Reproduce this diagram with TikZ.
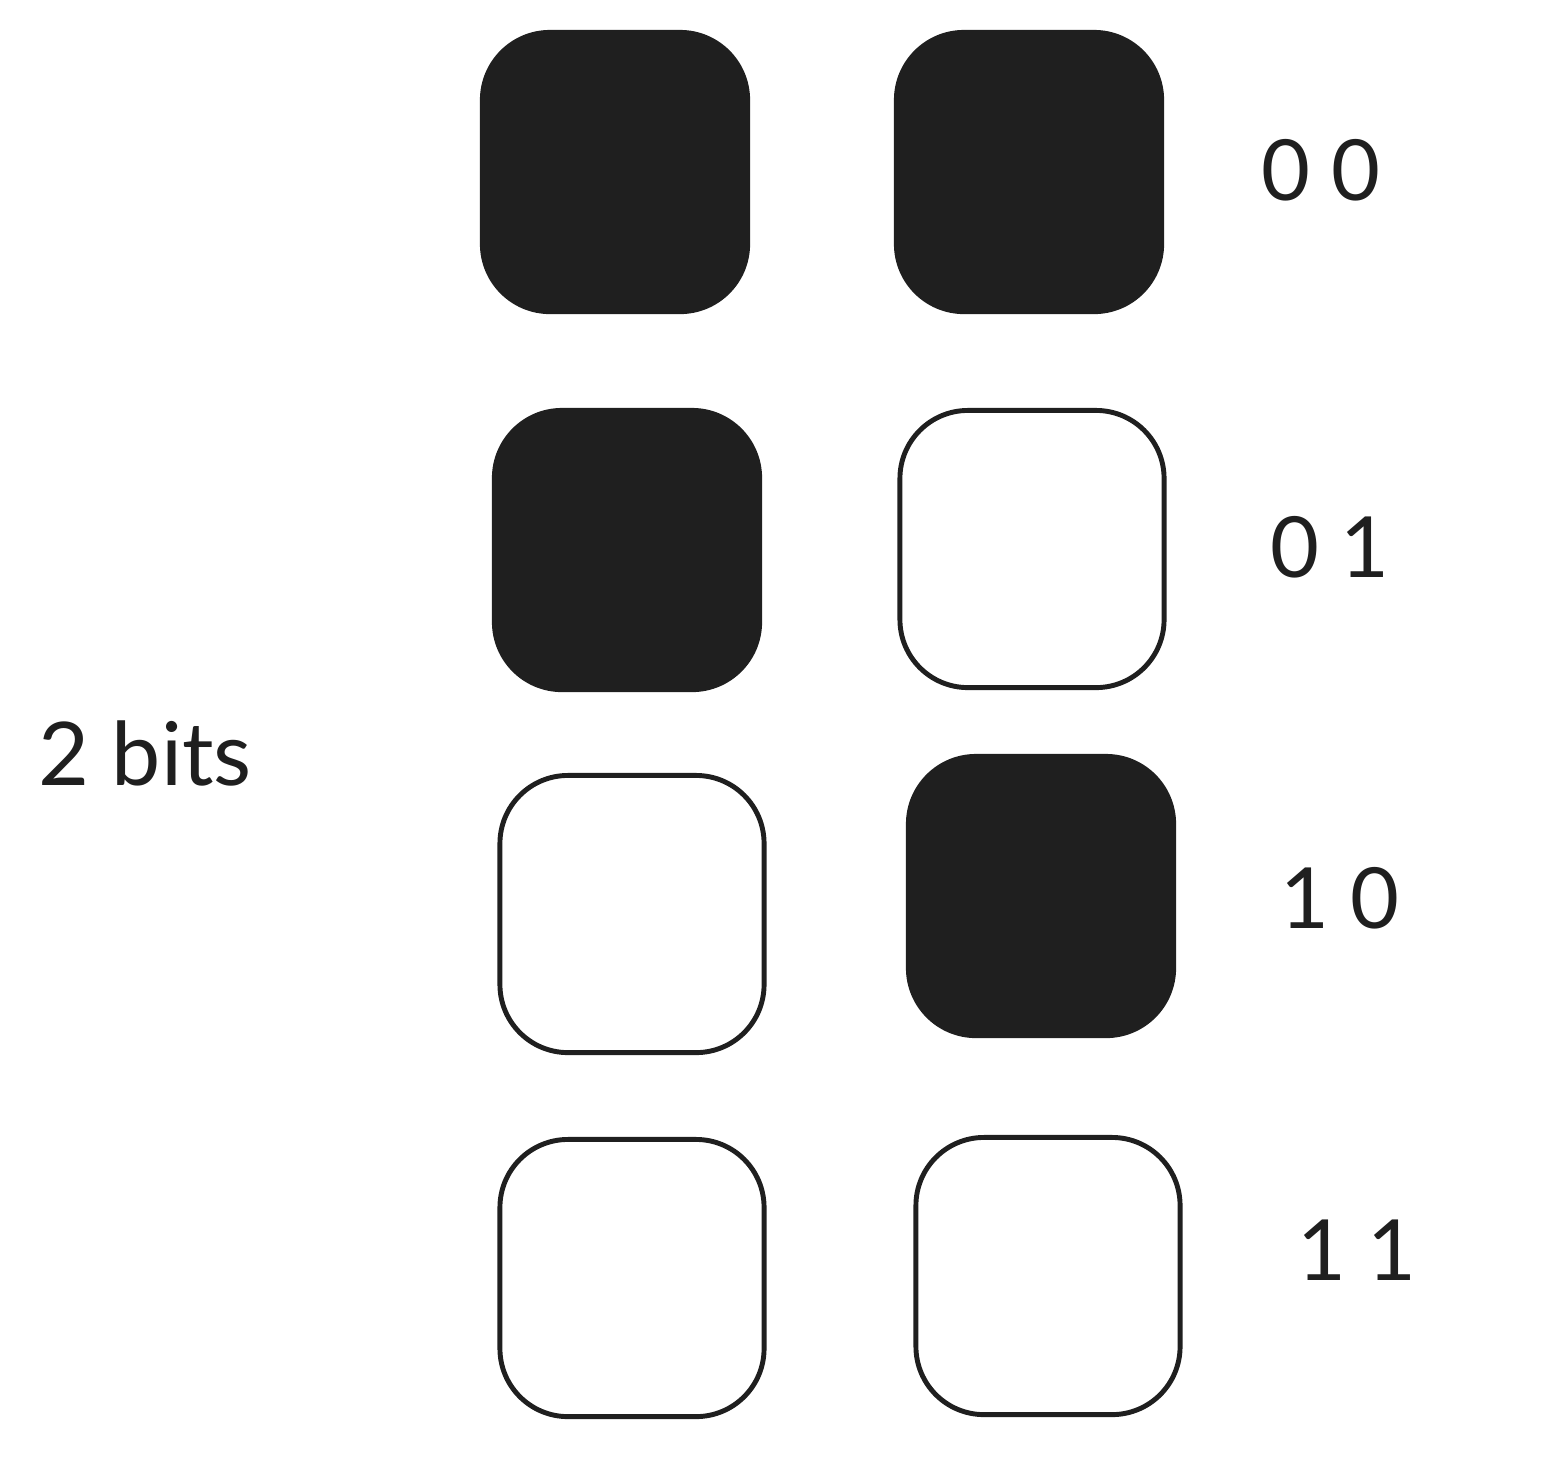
\documentclass[tikz,border=0pt]{standalone}
\usepackage{fontspec}
\setmainfont{Lato}
\definecolor{ink}{HTML}{1F1F1F}

\begin{document}
\begin{tikzpicture}[x=0.01cm, y=-0.01cm, line width=1.4pt,
  cellon/.style={fill=ink, draw=none, rounded corners=0.7cm, minimum width=2.7cm, minimum height=2.84cm, inner sep=0pt},
  celloff/.style={draw=ink, fill=none, rounded corners=0.68cm, minimum width=2.64cm, minimum height=2.77cm, inner sep=0pt},
  bitlabel/.style={font=\fontsize{24}{28}\selectfont, text=ink, inner sep=0pt}]
  \useasboundingbox (0,0) rectangle (1558,1456);
  % row 0 0
  \node[cellon] (a1) at (615,172) {};
  \node[cellon] (b1) at (1029,172) {};
  \node[bitlabel] (l1) at (1321,170) {0 0};
  % row 0 1
  \node[cellon] (a2) at (627,550) {};
  \node[celloff] (b2) at (1032,549) {};
  \node[bitlabel] (l2) at (1330,547) {0 1};
  % row 1 0
  \node[celloff] (a3) at (632,914) {};
  \node[cellon] (b3) at (1041,896) {};
  \node[bitlabel] (l3) at (1340,898) {1 0};
  % row 1 1
  \node[celloff] (a4) at (632,1278) {};
  \node[celloff] (b4) at (1048,1276) {};
  \node[bitlabel] (l4) at (1357,1250) {1 1};
  \node[bitlabel, font=\fontsize{25}{29}\selectfont, anchor=base] (bits) at (145,785) {2 bits};
\end{tikzpicture}
\end{document}
